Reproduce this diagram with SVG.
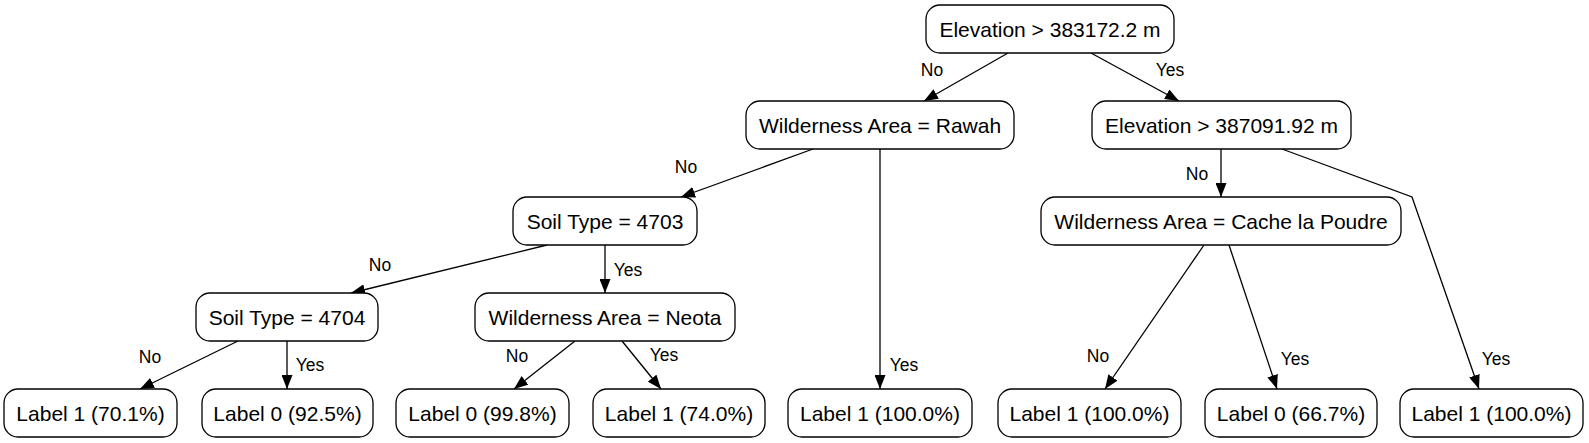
<svg xmlns="http://www.w3.org/2000/svg" width="1589" height="443" viewBox="0 0 1589 443">
<style>
.n rect{fill:#fff;stroke:#000;stroke-width:1.3}
.n text{font-family:"Liberation Sans",Arial,sans-serif;font-size:21px;text-anchor:middle;fill:#000}
.e path{fill:none;stroke:#000;stroke-width:1.3}
.e text{font-family:"Liberation Sans",Arial,sans-serif;font-size:17.5px;text-anchor:middle;fill:#000}
</style>
<defs>
<marker id="ah" markerWidth="14" markerHeight="11" refX="14" refY="5.5" orient="auto" markerUnits="userSpaceOnUse">
<path d="M0,0 L14,5.5 L0,11 z" fill="#000"/>
</marker>
</defs>
<rect width="1589" height="443" fill="#fff"/>
<g id="edges" class="e">
<path d="M1008,53 L924,101" marker-end="url(#ah)"/><text x="932" y="76">No</text>
<path d="M1091,53 L1179,101" marker-end="url(#ah)"/><text x="1170" y="76">Yes</text>
<path d="M813,149 L681,197" marker-end="url(#ah)"/><text x="686" y="173">No</text>
<path d="M880,149 L880,389" marker-end="url(#ah)"/><text x="904" y="371">Yes</text>
<path d="M1221,149 L1221,197" marker-end="url(#ah)"/><text x="1197" y="180">No</text>
<path d="M1282,149 L1412,197 L1479,389" marker-end="url(#ah)"/><text x="1496" y="365">Yes</text>
<path d="M547,245 L351,293" marker-end="url(#ah)"/><text x="380" y="271">No</text>
<path d="M605,245 L605,293" marker-end="url(#ah)"/><text x="628" y="276">Yes</text>
<path d="M238,341 L140,389" marker-end="url(#ah)"/><text x="150" y="363">No</text>
<path d="M287,341 L287,389" marker-end="url(#ah)"/><text x="310" y="371">Yes</text>
<path d="M575,341 L514,389" marker-end="url(#ah)"/><text x="517" y="362">No</text>
<path d="M622,341 L661,389" marker-end="url(#ah)"/><text x="664" y="361">Yes</text>
<path d="M1204,245 L1105,389" marker-end="url(#ah)"/><text x="1098" y="362">No</text>
<path d="M1229,245 L1277,389" marker-end="url(#ah)"/><text x="1295" y="365">Yes</text>
</g>
<g id="n_root" class="n"><rect x="926" y="5" width="248" height="48" rx="14"/><text x="1050" y="36.5">Elevation &gt; 383172.2 m</text></g>
<g id="n_rawah" class="n"><rect x="746" y="101" width="268" height="48" rx="14"/><text x="880" y="132.5">Wilderness Area = Rawah</text></g>
<g id="n_elev2" class="n"><rect x="1092" y="101" width="259" height="48" rx="14"/><text x="1221.5" y="132.5">Elevation &gt; 387091.92 m</text></g>
<g id="n_soil4703" class="n"><rect x="513" y="197" width="184" height="48" rx="14"/><text x="605" y="228.5">Soil Type = 4703</text></g>
<g id="n_cache" class="n"><rect x="1041" y="197" width="360" height="48" rx="14"/><text x="1221" y="228.5">Wilderness Area = Cache la Poudre</text></g>
<g id="n_soil4704" class="n"><rect x="196" y="293" width="182" height="48" rx="14"/><text x="287" y="324.5">Soil Type = 4704</text></g>
<g id="n_neota" class="n"><rect x="475" y="293" width="260" height="48" rx="14"/><text x="605" y="324.5">Wilderness Area = Neota</text></g>
<g id="n_l1" class="n"><rect x="4" y="389" width="173" height="48" rx="14"/><text x="90.5" y="420.5">Label 1 (70.1%)</text></g>
<g id="n_l2" class="n"><rect x="202" y="389" width="171" height="48" rx="14"/><text x="287.5" y="420.5">Label 0 (92.5%)</text></g>
<g id="n_l3" class="n"><rect x="396" y="389" width="173" height="48" rx="14"/><text x="482.5" y="420.5">Label 0 (99.8%)</text></g>
<g id="n_l4" class="n"><rect x="593" y="389" width="172" height="48" rx="14"/><text x="679" y="420.5">Label 1 (74.0%)</text></g>
<g id="n_l5" class="n"><rect x="788" y="389" width="184" height="48" rx="14"/><text x="880" y="420.5">Label 1 (100.0%)</text></g>
<g id="n_l6" class="n"><rect x="998" y="389" width="183" height="48" rx="14"/><text x="1089.5" y="420.5">Label 1 (100.0%)</text></g>
<g id="n_l7" class="n"><rect x="1205" y="389" width="172" height="48" rx="14"/><text x="1291" y="420.5">Label 0 (66.7%)</text></g>
<g id="n_l8" class="n"><rect x="1400" y="389" width="183" height="48" rx="14"/><text x="1491.5" y="420.5">Label 1 (100.0%)</text></g>
</svg>
